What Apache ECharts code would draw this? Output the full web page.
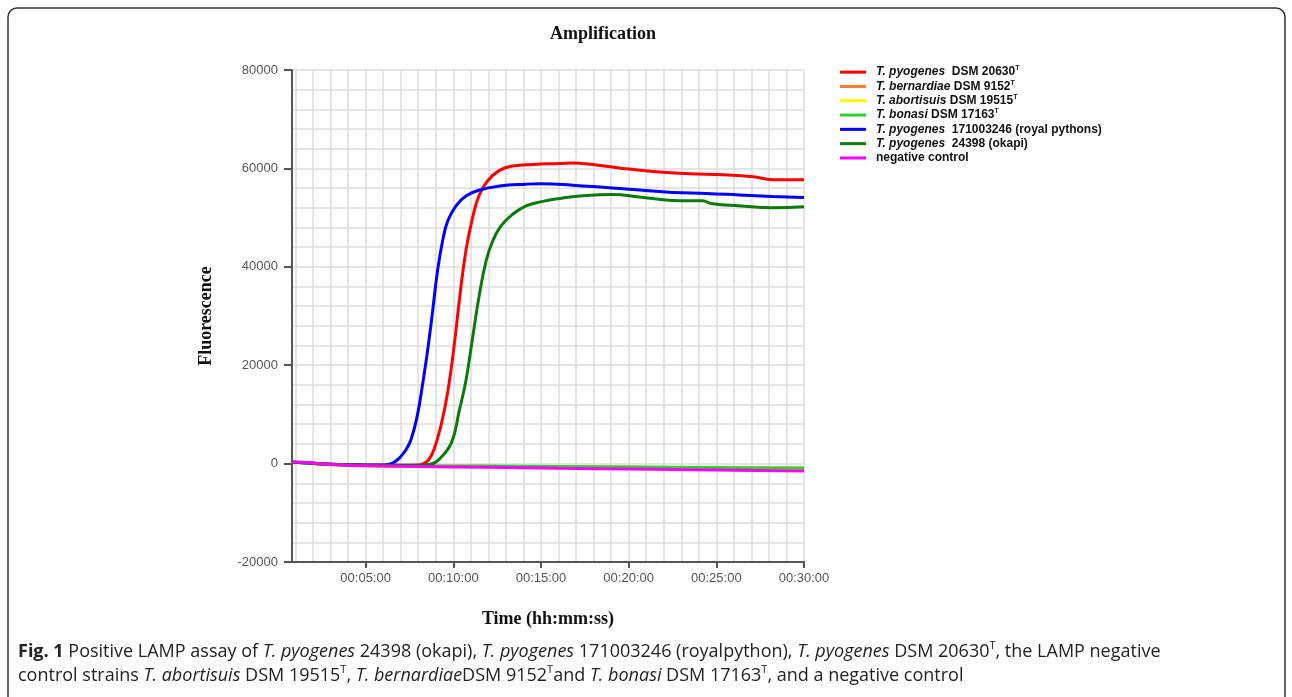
<!DOCTYPE html>
<html>
<head>
<meta charset="utf-8">
<script src="https://cdn.jsdelivr.net/npm/echarts@6/dist/echarts.min.js"></script>
<style>
  html, body { margin: 0; padding: 0; background: #fff; }
  #main { width: 1292px; height: 697px; }
</style>
</head>
<body>
<div id="main"></div>
<script>
// time in minutes, fluorescence values
var pyogenes20630 = [[0.8,300],[2,50],[3,-150],[5,-300],[7,-350],[8,-300],[8.3,0],[8.6,800],[8.91,3000],[9.3,7800],[9.68,14500],[10.06,24300],[10.34,33100],[10.72,43300],[11.1,50000],[11.49,54700],[11.96,57500],[12.63,59600],[13.39,60500],[14.53,60800],[16.06,61000],[16.8,61100],[17.94,60800],[19.66,60000],[21.56,59300],[23.47,58900],[25.37,58700],[27.09,58300],[28.2,57700],[30,57700]];
var bernardiae = [[0.8,300],[2,0],[3,-200],[5,-450],[10,-550],[15,-650],[20,-750],[25,-850],[30,-950]];
var abortisuis = [[0.8,300],[2,0],[3,-250],[5,-450],[10,-550],[20,-750],[30,-1000]];
var bonasi = [[0.8,300],[2,0],[3,-200],[5,-400],[8,-500],[12,-500],[16,-600],[20,-700],[25,-800],[30,-900]];
var pyogenesRoyal = [[0.8,300],[2,50],[3,-150],[4,-250],[5,-300],[6,-300],[6.3,-150],[6.6,200],[6.94,1200],[7.3,2800],[7.6,5000],[7.96,10000],[8.25,16200],[8.53,22900],[8.82,31000],[9.1,39200],[9.39,45300],[9.68,49300],[10.15,52400],[10.72,54400],[11.49,55600],[12.63,56400],[14.15,56800],[15,56900],[16.8,56600],[18.7,56100],[20.6,55600],[22.5,55100],[24.4,54900],[26.3,54600],[28.2,54300],[30,54100]];
var pyogenesOkapi = [[0.8,300],[2,50],[3,-150],[5,-300],[8,-350],[8.7,-150],[9.2,900],[9.9,4300],[10.34,10800],[10.72,16900],[11.1,25600],[11.49,34400],[11.87,41200],[12.25,45300],[12.72,48300],[13.39,50700],[14.15,52400],[15.1,53300],[16.06,53900],[17.2,54400],[19.1,54700],[20.6,54200],[22.5,53500],[24.2,53400],[24.8,52800],[26.3,52400],[28.2,52000],[30,52200]];
var negControl = [[0.8,400],[2,100],[3,-200],[5,-450],[8,-600],[12,-750],[16,-950],[20,-1100],[25,-1300],[30,-1500]];

var seriesNames = ['pyo20630','bern','abort','bonasi','pyoRoyal','pyoOkapi','neg'];
var seriesData = [pyogenes20630, bernardiae, abortisuis, bonasi, pyogenesRoyal, pyogenesOkapi, negControl];
var seriesColors = ['#ff0000','#ff7b2e','#ffff00','#2ed12e','#0000ff','#0a7a0a','#ff00ff'];
var legendTexts = {
    pyo20630: '{i|T. pyogenes}{n|  DSM 20630}{s|T}',
    bern: '{i|T. bernardiae}{n| DSM 9152}{s|T}',
    abort: '{i|T. abortisuis}{n| DSM 19515}{s|T}',
    bonasi: '{i|T. bonasi}{n| DSM 17163}{s|T}',
    pyoRoyal: '{i|T. pyogenes}{n|  171003246 (royal pythons)}',
    pyoOkapi: '{i|T. pyogenes}{n|  24398 (okapi)}',
    neg: '{n|negative control}'
};
var xTickMinutes = [5, 10, 15, 20, 25, 30];
var xGridMinutes = [1,2,3,4,5,6,7,8,9,10,11,12,13,14,15,16,17,18,19,20,21,22,23,24,25,26,27,28,29,30];

var caption = '{b|Fig. 1}{n| Positive LAMP assay of }{i|T. pyogenes}{n| 24398 (okapi), }{i|T. pyogenes}{n| 171003246 (royalpython), }{i|T. pyogenes}{n| DSM 20630}{s|T}{n|, the LAMP negative}\n' +
    '{n|control strains }{i|T. abortisuis}{n| DSM 19515}{s|T}{n|, }{i|T. bernardiae}{n|DSM 9152}{s|T}{n|and }{i|T. bonasi}{n| DSM 17163}{s|T}{n|, and a negative control}';

var myChart = echarts.init(document.getElementById('main'));

var series = seriesNames.map(function (name, i) {
    return {
        name: name,
        type: 'line',
        xAxisIndex: 0,
        yAxisIndex: 0,
        data: seriesData[i],
        showSymbol: false,
        smooth: 0.45,
        lineStyle: { width: 3, color: seriesColors[i] },
        itemStyle: { color: seriesColors[i] },
        z: 3
    };
});

function pad(n) { return (n < 10 ? '0' : '') + n; }

var option = {
    animation: false,
    backgroundColor: '#fff',
    grid: { left: 292, right: 488, top: 70, bottom: 135 },
    legend: {
        orient: 'vertical',
        left: 840,
        top: 65,
        padding: 0,
        icon: 'rect',
        itemWidth: 26,
        itemHeight: 3,
        itemGap: 0,
        data: seriesNames,
        formatter: function (name) { return legendTexts[name]; },
        textStyle: {
            padding: [0, 0, 0, 5],
            lineHeight: 14.3,
            rich: {
                i: { fontFamily: 'Liberation Sans', fontWeight: 'bold', fontStyle: 'italic', fontSize: 12, color: '#111', lineHeight: 14.3 },
                n: { fontFamily: 'Liberation Sans', fontWeight: 'bold', fontSize: 12, color: '#111', lineHeight: 14.3 },
                s: { fontFamily: 'Liberation Sans', fontWeight: 'bold', fontSize: 7, color: '#111', lineHeight: 8, verticalAlign: 'top' }
            }
        }
    },
    xAxis: [{
        type: 'value',
        min: 0.8,
        max: 30,
        name: 'Time (hh:mm:ss)',
        nameLocation: 'middle',
        nameGap: 48,
        nameTextStyle: { fontFamily: 'Liberation Serif', fontWeight: 'bold', fontSize: 18, color: '#111' },
        axisLine: { onZero: false, lineStyle: { color: '#555', width: 2 } },
        axisTick: { show: true, length: 6, customValues: xTickMinutes, lineStyle: { color: '#555', width: 2 } },
        axisLabel: {
            customValues: xTickMinutes,
            margin: 10,
            fontFamily: 'Liberation Sans',
            fontSize: 13,
            color: '#555',
            formatter: function (v) { return '00:' + pad(v) + ':00'; }
        },
        splitLine: { show: false }
    }, {
        type: 'value',
        min: 0.8,
        max: 30,
        position: 'bottom',
        axisLine: { show: false, onZero: false },
        axisTick: { show: false, customValues: xGridMinutes },
        axisLabel: { show: false },
        splitLine: { show: true, lineStyle: { color: '#dcdcdc', width: 1.5 } }
    }],
    yAxis: [{
        type: 'value',
        min: -20000,
        max: 80000,
        interval: 20000,
        name: 'Fluorescence',
        nameLocation: 'middle',
        nameGap: 77,
        nameTextStyle: { fontFamily: 'Liberation Serif', fontWeight: 'bold', fontSize: 18, color: '#111' },
        axisLine: { show: true, onZero: false, lineStyle: { color: '#555', width: 2 } },
        axisTick: { show: true, length: 8, lineStyle: { color: '#555', width: 2 } },
        axisLabel: {
            margin: 14, fontFamily: 'Liberation Sans', fontSize: 13, color: '#555',
            formatter: function (v) { return String(v); }
        },
        splitLine: { show: false }
    }, {
        type: 'value',
        min: -20000,
        max: 80000,
        interval: 4000,
        position: 'left',
        axisLine: { show: false },
        axisTick: { show: false },
        axisLabel: { show: false },
        splitLine: { show: true, lineStyle: { color: '#dcdcdc', width: 1.5 } }
    }],
    graphic: [{
        type: 'rect',
        shape: { x: 8, y: 8, width: 1277, height: 720, r: [9, 9, 0, 0] },
        style: { fill: 'none', stroke: '#333', lineWidth: 1.5 },
        silent: true
    }, {
        type: 'text',
        x: 603,
        y: 34,
        style: {
            text: 'Amplification',
            fontFamily: 'Liberation Serif',
            fontWeight: 'bold',
            fontSize: 18,
            fill: '#111',
            align: 'center',
            verticalAlign: 'middle'
        }
    }, {
        type: 'text',
        x: 18,
        y: 640,
        style: {
            text: caption,
            fontFamily: 'Open Sans',
            fontSize: 18,
            fill: '#222',
            rich: {
                b: { fontFamily: 'Open Sans', fontWeight: 'bold', fontSize: 18, lineHeight: 24, fill: '#222' },
                n: { fontFamily: 'Open Sans', fontSize: 18, lineHeight: 24, fill: '#222' },
                i: { fontFamily: 'Open Sans', fontStyle: 'italic', fontSize: 18, lineHeight: 24, fill: '#222' },
                s: { fontFamily: 'Open Sans', fontSize: 11, lineHeight: 11, verticalAlign: 'top', fill: '#222' }
            }
        }
    }],
    series: series
};

myChart.setOption(option);
</script>
</body>
</html>
